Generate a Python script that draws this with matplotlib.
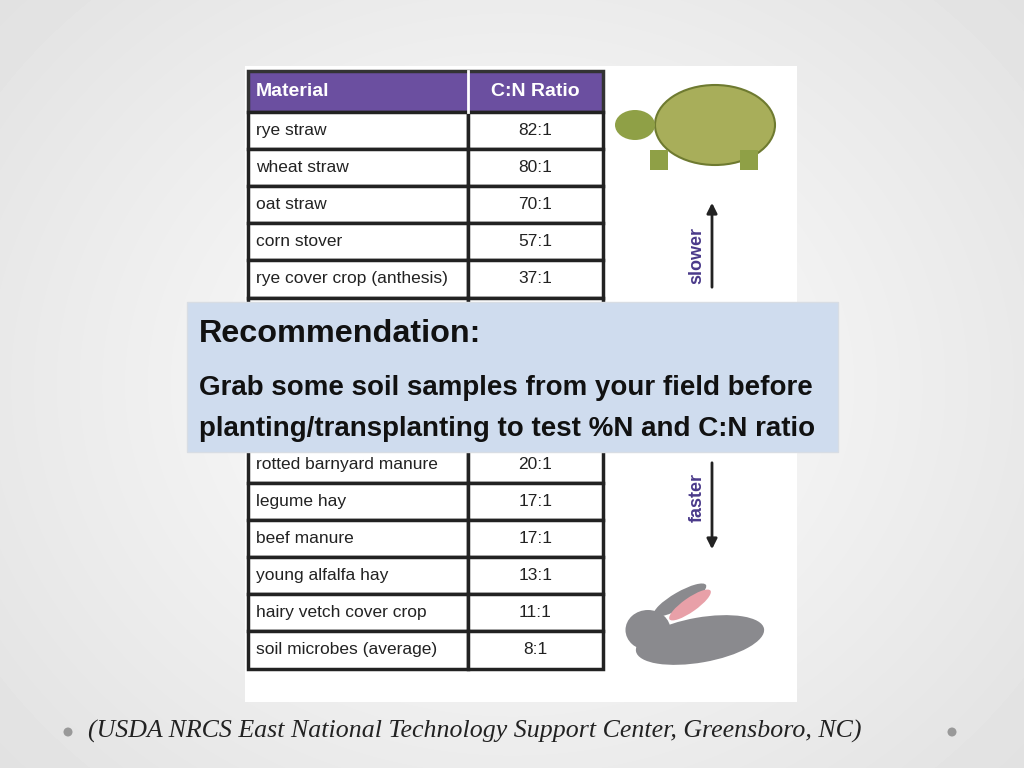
import numpy as np
import matplotlib
matplotlib.use("Agg")
import matplotlib.pyplot as plt
from matplotlib.patches import Rectangle, Ellipse, FancyArrowPatch

materials = ["rye straw", "wheat straw", "oat straw", "corn stover", "rye cover crop (anthesis)",
             "", "", "", "",
             "rotted barnyard manure", "legume hay", "beef manure", "young alfalfa hay",
             "hairy vetch cover crop", "soil microbes (average)"]
ratios = ["82:1", "80:1", "70:1", "57:1", "37:1", "", "", "", "",
          "20:1", "17:1", "17:1", "13:1", "11:1", "8:1"]
headers = ["Material", "C:N Ratio"]
title = "Recommendation:"
body = ["Grab some soil samples from your field before",
        "planting/transplanting to test %N and C:N ratio"]
source = "(USDA NRCS East National Technology Support Center, Greensboro, NC)"

fig = plt.figure(figsize=(10.24, 7.68), dpi=100)
ax = fig.add_axes([0, 0, 1, 1])
ax.set_xlim(0, 1024); ax.set_ylim(768, 0); ax.axis("off")

yy, xx = np.mgrid[0:768, 0:1024]
r = np.sqrt(((xx - 512) / 700) ** 2 + ((yy - 384) / 600) ** 2)
bg = 1.0 - 0.12 * np.clip(r, 0, 1.2)
ax.imshow(bg, cmap="gray", vmin=0, vmax=1, extent=(0, 1024, 768, 0), zorder=0)

ax.add_patch(Rectangle((245, 66), 552, 636, fc="white", ec="none", zorder=1))

FN = "Liberation Sans"
x0, xm, x1 = 248, 468, 603
top, hh, rh = 71, 41, 37.1
ax.add_patch(Rectangle((x0, top), x1 - x0, hh, fc="#6B4FA0", ec="#333333", lw=2.5, zorder=2))
ax.plot([xm, xm], [top, top + hh], color="white", lw=2, zorder=3)
ax.text(x0 + 8, top + hh / 2, headers[0], color="white", fontsize=14, fontweight="bold",
        family=FN, va="center", zorder=4)
ax.text((xm + x1) / 2, top + hh / 2, headers[1], color="white", fontsize=14, fontweight="bold",
        family=FN, va="center", ha="center", zorder=4)
for i, (m, c) in enumerate(zip(materials, ratios)):
    y = top + hh + i * rh
    ax.add_patch(Rectangle((x0, y), xm - x0, rh, fc="white", ec="#222222", lw=2.5, zorder=2))
    ax.add_patch(Rectangle((xm, y), x1 - xm, rh, fc="white", ec="#222222", lw=2.5, zorder=2))
    ax.text(x0 + 8, y + rh / 2, m, fontsize=12.5, family=FN,
            va="center", color="#222222", zorder=4)
    ax.text((xm + x1) / 2, y + rh / 2, c, fontsize=12.5, family=FN,
            va="center", ha="center", color="#222222", zorder=4)

ax.add_patch(FancyArrowPatch((712, 290), (712, 200), arrowstyle="-|>", mutation_scale=15,
                             lw=2, color="#222222", zorder=3))
ax.add_patch(FancyArrowPatch((712, 460), (712, 552), arrowstyle="-|>", mutation_scale=15,
                             lw=2, color="#222222", zorder=3))
ax.text(697, 256, "slower", rotation=90, color="#4A3A8A", fontsize=13, fontweight="bold",
        family=FN, va="center", ha="center", zorder=5)
ax.text(697, 498, "faster", rotation=90, color="#4A3A8A", fontsize=13, fontweight="bold",
        family=FN, va="center", ha="center", zorder=5)

ax.add_patch(Ellipse((715, 125), 120, 80, fc="#A8AE5A", ec="#6E7A30", lw=1.5, zorder=3))
ax.add_patch(Ellipse((635, 125), 40, 30, fc="#8FA046", ec="none", zorder=3))
ax.add_patch(Rectangle((650, 150), 18, 20, fc="#8FA046", zorder=3))
ax.add_patch(Rectangle((740, 150), 18, 20, fc="#8FA046", zorder=3))
ax.add_patch(Ellipse((700, 640), 130, 45, angle=-10, fc="#8A8A8E", ec="none", zorder=3))
ax.add_patch(Ellipse((648, 630), 45, 40, fc="#8A8A8E", ec="none", zorder=3))
ax.add_patch(Ellipse((680, 600), 60, 16, angle=-30, fc="#8A8A8E", ec="none", zorder=3))
ax.add_patch(Ellipse((690, 605), 50, 14, angle=-35, fc="#E8A0A8", ec="none", zorder=3))

ax.add_patch(Rectangle((187, 302), 651, 150, fc="#CFDCEE", ec="#D8DDE4", lw=1, zorder=6))
ax.text(199, 334, title, fontsize=23.3, fontweight="bold", family=FN,
        va="center", color="#111111", zorder=7)
ax.text(199, 388, body[0], fontsize=20, fontweight="bold", family=FN,
        va="center", color="#111111", zorder=7)
ax.text(199, 429, body[1], fontsize=20, fontweight="bold", family=FN,
        va="center", color="#111111", zorder=7)

ax.text(88, 731, source, fontsize=18.6, style="italic", family="Liberation Serif",
        va="center", color="#222222", zorder=7)
ax.add_patch(Ellipse((68, 732), 9, 9, fc="#999999", zorder=7))
ax.add_patch(Ellipse((952, 732), 9, 9, fc="#999999", zorder=7))

fig.savefig("out.png", dpi=100)
